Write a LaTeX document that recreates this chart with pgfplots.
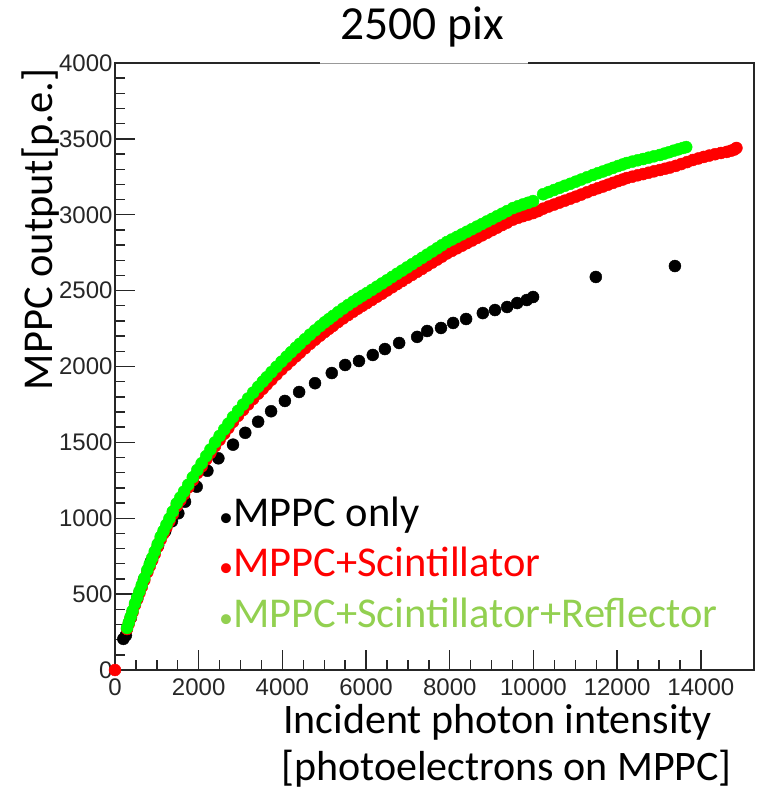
\documentclass[border=0pt]{standalone}
\usepackage{pgfplots}
\pgfplotsset{compat=1.18}
\usepackage{pgfplotstable}
\usepackage{fontspec}
\newfontfamily\calibri{Carlito}
\newfontfamily\arialf{Liberation Sans}
\definecolor{legGreen}{HTML}{92D050}
\definecolor{dataGreen}{HTML}{00FF00}
\definecolor{dataRed}{HTML}{FF0000}
\newcommand{\smallbullet}{{\fontsize{28}{28}\selectfont •}}

\pgfplotstableread{
x y
200 205
260 228
380 345
530 470
690 595
860 715
1030 820
1200 915
1360 980
1513 1033
1673 1109
1952 1208
2207 1313
2470 1395
2820 1485
3113 1563
3420 1636
3730 1705
4060 1773
4400 1832
4780 1890
5180 1957
5500 2010
5830 2036
6160 2076
6450 2115
6790 2155
7220 2195
7460 2234
7790 2254
8080 2287
8390 2313
8790 2352
9080 2372
9370 2392
9610 2418
9840 2438
9990 2458
11490 2590
13380 2662
}\blackdata

\pgfplotstableread{
x y
0 0
287 270
330 306
375 343
420 381
478 429
530 467
585 508
640 548
700 592
773 645
830 684
890 724
950 765
1020 812
1092 860
1160 899
1230 940
1300 980
1380 1026
1474 1080
1560 1118
1650 1158
1750 1203
1860 1251
1967 1298
2070 1341
2180 1388
2280 1430
2390 1475
2500 1517
2610 1557
2710 1595
2820 1635
2940 1675
3060 1713
3180 1750
3300 1786
3420 1821
3530 1853
3625 1881
3740 1913
3860 1947
3980 1980
4100 2011
4210 2039
4320 2066
4420 2091
4540 2120
4660 2149
4780 2176
4900 2203
5010 2227
5110 2248
5210 2268
5330 2293
5450 2317
5570 2339
5690 2361
5800 2381
5910 2400
6020 2418
6140 2439
6260 2460
6380 2480
6500 2501
6620 2522
6740 2543
6860 2563
6980 2584
7100 2604
7220 2624
7340 2644
7460 2665
7580 2685
7700 2705
7810 2724
7930 2745
8050 2762
8170 2779
8290 2796
8410 2813
8530 2830
8650 2847
8770 2864
8890 2881
9010 2898
9130 2915
9250 2932
9370 2948
9510 2968
9630 2980
9750 2991
9870 3001
9990 3011
10110 3024
10230 3040
10360 3054
10490 3067
10620 3080
10750 3093
10880 3106
11010 3119
11140 3133
11280 3148
11420 3163
11540 3175
11660 3186
11780 3198
11900 3210
12020 3222
12130 3232
12230 3242
12360 3251
12490 3260
12620 3268
12750 3277
12880 3286
13020 3295
13140 3303
13260 3311
13400 3322
13530 3334
13670 3347
13810 3361
13940 3371
14070 3381
14200 3390
14340 3399
14480 3407
14620 3414
14720 3422
14800 3430
14850 3440
}\reddata

\pgfplotstableread{
x y
287 277
330 313
375 351
420 390
478 439
530 478
585 519
640 560
700 605
773 659
830 698
890 739
950 781
1020 829
1092 878
1160 917
1230 958
1300 998
1380 1044
1474 1098
1560 1136
1650 1176
1750 1221
1860 1270
1967 1318
2070 1362
2180 1410
2280 1453
2390 1500
2500 1543
2610 1585
2710 1624
2820 1667
2940 1708
3060 1749
3180 1789
3300 1828
3420 1866
3530 1900
3625 1929
3740 1963
3860 1998
3980 2032
4100 2065
4210 2095
4320 2124
4420 2150
4540 2180
4660 2210
4780 2238
4900 2266
5010 2291
5110 2312
5210 2333
5330 2358
5450 2382
5570 2405
5690 2427
5800 2447
5910 2466
6020 2484
6140 2505
6260 2526
6380 2547
6500 2568
6620 2590
6740 2611
6860 2632
6980 2653
7100 2674
7220 2695
7340 2716
7460 2737
7580 2758
7700 2779
7810 2799
7930 2820
8050 2837
8170 2854
8290 2871
8410 2888
8530 2905
8650 2922
8770 2939
8890 2956
9010 2973
9130 2990
9250 3007
9370 3024
9510 3044
9630 3056
9750 3068
9870 3079
9990 3090
10230 3135
10360 3149
10490 3163
10620 3177
10750 3191
10880 3204
11010 3218
11140 3232
11280 3247
11420 3262
11540 3274
11660 3285
11780 3297
11900 3309
12020 3321
12130 3331
12230 3341
12360 3350
12490 3359
12620 3367
12750 3376
12880 3385
13020 3394
13130 3403
13240 3412
13350 3422
13460 3431
13570 3440
13650 3446
}\greendata

\begin{document}
\begin{tikzpicture}
\useasboundingbox (-115pt,-119pt) rectangle (644pt,670pt);
\begin{axis}[
  at={(0pt,0pt)}, anchor=south west,
  scale only axis, width=639pt, height=607pt,
  xmin=0, xmax=15270, ymin=0, ymax=4000,
  clip=false,
  axis line style={black!85, line width=1.8pt},
  xtick={0,2000,...,14000}, ytick={0,500,...,4000},
  minor x tick num=3, minor y tick num=4,
  tick align=inside, xtick pos=bottom, ytick pos=left,
  major tick length=20pt, minor tick length=10pt,
  tick style={black!85, line width=1.4pt},
  /pgf/number format/assume math mode=true,
  /pgf/number format/set thousands separator={},
  ticklabel style={font=\arialf\fontsize{24}{28}\selectfont, text=black!85},
  xticklabel style={yshift=-5pt},
  yticklabel style={xshift=1pt},
  scaled ticks=false,
]
\addplot[only marks, mark=*, mark size=6pt, color=black] table[x=x,y=y] {\blackdata};
\addplot[only marks, mark=*, mark size=6pt, color=dataRed] table[x=x,y=y] {\reddata};
\addplot[only marks, mark=*, mark size=6pt, color=dataGreen] table[x=x,y=y] {\greendata};
\end{axis}
\draw[white, line width=3pt] (205pt,607pt) -- (413pt,607pt);
\draw[black!40, line width=1pt] (205pt,606pt) -- (413pt,606pt);
\node[anchor=base, inner sep=0pt, font=\calibri\fontsize{47.5}{55}\selectfont] at (307pt,630pt) {2500 pix};
\node[anchor=base, rotate=90, inner sep=0pt, font=\calibri\fontsize{42.5}{50}\selectfont] at (-62pt,440.5pt) {MPPC output[p.e.]};
\node[anchor=base, inner sep=0pt, font=\calibri\fontsize{42}{50}\selectfont] at (382.5pt,-63pt) {Incident photon intensity};
\node[anchor=base, inner sep=0pt, font=\calibri\fontsize{42}{50}\selectfont] at (391.5pt,-110pt) {[photoelectrons on MPPC]};
\node[anchor=base west, inner sep=0pt, font=\calibri\fontsize{42.5}{50}\selectfont, text=black] at (104pt,143pt) {\smallbullet MPPC only};
\node[anchor=base west, inner sep=0pt, font=\calibri\fontsize{42.5}{50}\selectfont, text=dataRed] at (104pt,93pt) {\smallbullet MPPC+Scintillator};
\node[anchor=base west, inner sep=0pt, font=\calibri\fontsize{42.5}{50}\selectfont, text=legGreen] at (104pt,42pt) {\smallbullet MPPC+Scintillator+Reflector};
\end{tikzpicture}
\end{document}
